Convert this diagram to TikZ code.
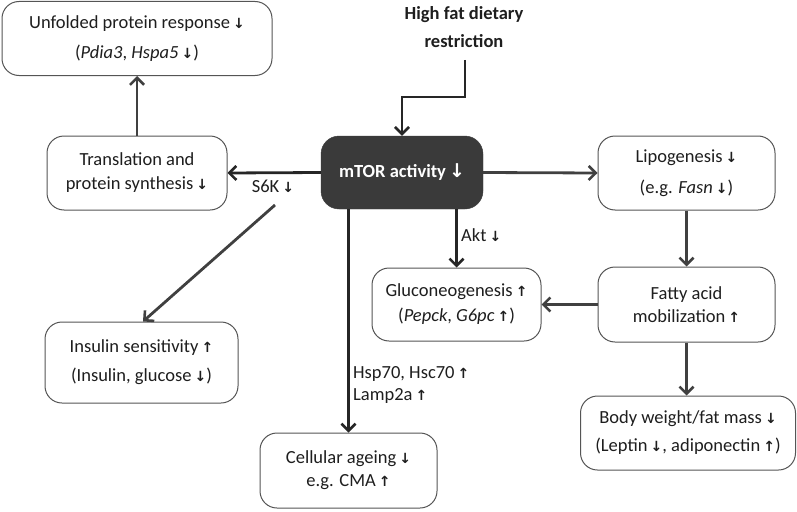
\documentclass[tikz,border=0pt]{standalone}
\usepackage{fontspec}
\setmainfont{Carlito}
\newfontfamily\arrowfont{DejaVu Sans}
\usetikzlibrary{arrows.meta}
\newcommand{\DA}{{\arrowfont\bfseries\fontsize{14}{15}\selectfont ↓}}
\newcommand{\UA}{{\arrowfont\bfseries\fontsize{14}{15}\selectfont ↑}}
\newcommand{\TDA}{{\arrowfont\fontsize{19}{20}\selectfont ↓}}
\definecolor{txt}{HTML}{1E1E1E}
\definecolor{edge}{HTML}{404040}
\definecolor{boxline}{HTML}{555555}
\definecolor{mtorfill}{HTML}{3A3A3A}
\tikzset{
  box/.style={draw=boxline, line width=1pt, rounded corners=17pt, fill=white,
    align=center, text=txt, inner sep=0pt},
  conn/.style={draw=edge, line width=2.8pt, -{Straight Barb[length=7pt,width=14pt,line width=2.6pt]}},
  lbl/.style={text=txt, inner sep=0pt},
}
\begin{document}
\begin{tikzpicture}[x=1pt,y=-1pt,font=\fontsize{18.5}{22}\selectfont]
\useasboundingbox (0,0) rectangle (797,511);
\node[box, minimum width=270pt, minimum height=74pt] (upr) at (137,38.5)
  {Unfolded protein response\,\DA\\[8pt](\textit{Pdia3}, \textit{Hspa5}\,\DA)};
\node[box, minimum width=180pt, minimum height=74pt] (tra) at (137,173)
  {Translation and\\[2pt]protein synthesis\,\DA};
\node[draw=mtorfill, fill=mtorfill, rounded corners=18pt, minimum width=162pt, minimum height=73pt,
  text=white, inner sep=0pt] (mtor) at (402,172.5)
  {\bfseries mTOR activity\,\TDA};
\node[box, minimum width=177pt, minimum height=74pt] (lip) at (686.5,173)
  {Lipogenesis\,\DA\\[9pt](e.g. \textit{Fasn}\,\DA)};
\node[box, minimum width=193pt, minimum height=81pt] (ins) at (141.5,362.5)
  {Insulin sensitivity\,\UA\\[7pt](Insulin, glucose\,\DA)};
\node[box, minimum width=169pt, minimum height=73pt] (glu) at (456.5,304.5)
  {Gluconeogenesis\,\UA\\[3pt](\textit{Pepck}, \textit{G6pc}\,\UA)};
\node[box, minimum width=177pt, minimum height=75pt] (fat) at (686.5,304.5)
  {Fatty acid\\[1pt]mobilization\,\UA};
\node[box, minimum width=177pt, minimum height=75pt] (cel) at (348.5,470.5)
  {Cellular ageing\,\DA\\[1pt]e.g. CMA\,\UA};
\node[box, minimum width=215pt, minimum height=74pt] (bod) at (688,433)
  {Body weight/fat mass\,\DA\\[6pt](Leptin\,\DA, adiponectin\,\UA)};
\node[lbl, align=center, font=\fontsize{18.5}{28}\selectfont\bfseries] (hf) at (464,27)
  {High fat dietary\\restriction};
\node[lbl] (s6k) at (273,186) {S6K\,\DA};
\node[lbl, anchor=west] (akt) at (461,235) {Akt\,\DA};
\node[lbl, anchor=west, align=left, font=\fontsize{18.5}{22}\selectfont] (hsp) at (353,385)
  {Hsp70, Hsc70\,\UA\\Lamp2a\,\UA};
\coordinate (hfs) at (465,60);
\coordinate (s6s) at (275,205);
\draw[conn, draw=black!85] (hfs) -- ++(0,37) -| (mtor.north);
\draw[conn, draw=black!85] (mtor.west) -- (tra.east);
\draw[conn] (mtor.east) -- (lip.west);
\draw[conn] (tra.north) -- (upr.south);
\draw[conn] (s6s) -- ([xshift=1.5pt]ins.north);
\draw[conn, draw=black!85] (mtor.south -| cel.north) -- (cel.north);
\draw[conn, draw=black!85] (mtor.south -| glu.north) -- (glu.north);
\draw[conn] (lip.south) -- (fat.north);
\draw[conn] (fat.west) -- (glu.east);
\draw[conn] (fat.south) -- (fat.south |- bod.north);
\end{tikzpicture}
\end{document}
